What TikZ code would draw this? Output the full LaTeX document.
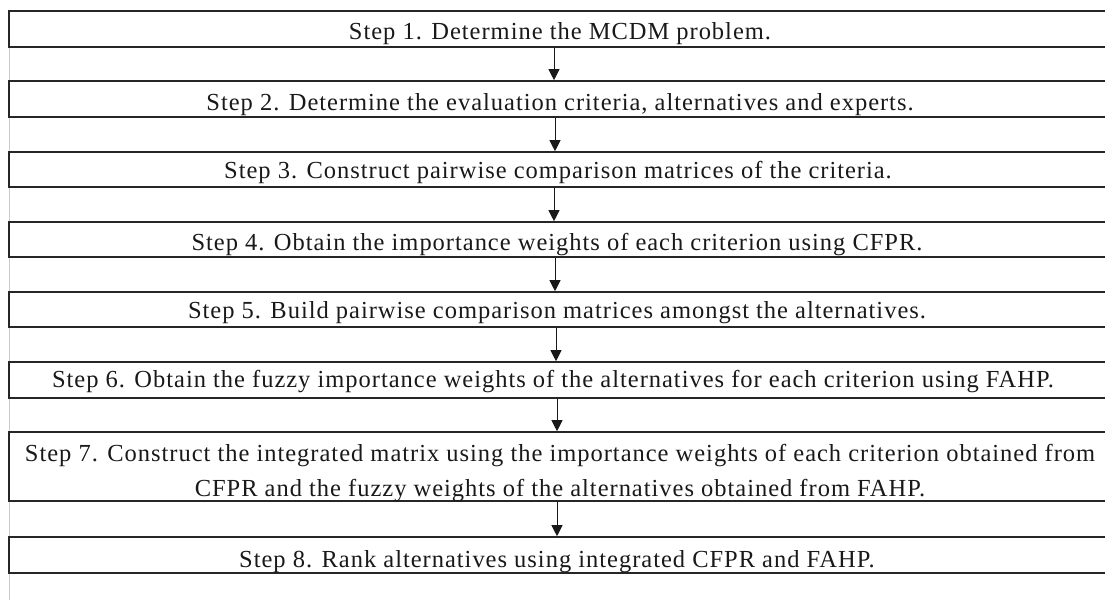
\documentclass[tikz,border=0pt]{standalone}
\usepackage{fontspec}
\setmainfont{Liberation Serif}[LetterSpace=4]
\usetikzlibrary{arrows.meta}
\begin{document}
\begin{tikzpicture}[x=1pt,y=-1pt,
  stepbox/.style={draw=black!85,line width=1.6pt,rectangle,inner sep=0pt,minimum width=1099pt},
  txt/.style={anchor=base,inner sep=0pt,text=black!90,font=\fontsize{24.5}{35}\selectfont},
  arr/.style={draw=black!90,line width=1pt,-{Triangle[length=11pt,width=11pt]}},
  page/.style={draw=black!20,line width=0.8pt}]
\useasboundingbox (0,0) rectangle (1105,600);
\coordinate (pt) at (9,11);
\coordinate (pb) at (9,600);
\draw[page] (pt) -- (pb);
\node[stepbox,minimum height=36pt] (b1) at (558.5,29) {};
\node[stepbox,minimum height=36pt] (b2) at (558.5,99) {};
\node[stepbox,minimum height=35pt] (b3) at (558.5,169.5) {};
\node[stepbox,minimum height=35pt] (b4) at (558.5,239.5) {};
\node[stepbox,minimum height=35pt] (b5) at (558.5,309.5) {};
\node[stepbox,minimum height=36pt] (b6) at (558.5,380) {};
\node[stepbox,minimum height=69pt] (b7) at (558.5,466.5) {};
\node[stepbox,minimum height=36pt] (b8) at (558.5,555) {};
\node[txt] (t1) at (560,39) {Step 1. Determine the MCDM problem.};
\node[txt] (t2) at (560,110) {Step 2. Determine the evaluation criteria, alternatives and experts.};
\node[txt] (t3) at (558,178) {Step 3. Construct pairwise comparison matrices of the criteria.};
\node[txt] (t4) at (557,250) {Step 4. Obtain the importance weights of each criterion using CFPR.};
\node[txt] (t5) at (557,318) {Step 5. Build pairwise comparison matrices amongst the alternatives.};
\node[txt] (t6) at (553,387) {Step 6. Obtain the fuzzy importance weights of the alternatives for each criterion using FAHP.};
\node[txt] (t7a) at (560,461) {Step 7. Construct the integrated matrix using the importance weights of each criterion obtained from};
\node[txt] (t7b) at (560,496) {CFPR and the fuzzy weights of the alternatives obtained from FAHP.};
\node[txt] (t8) at (557,567) {Step 8. Rank alternatives using integrated CFPR and FAHP.};
\draw[arr] ([xshift=-4.5pt]b1.south) -- ([xshift=-4.5pt]b2.north);
\draw[arr] ([xshift=-3.5pt]b2.south) -- ([xshift=-3.5pt]b3.north);
\draw[arr] ([xshift=-4.5pt]b3.south) -- ([xshift=-4.5pt]b4.north);
\draw[arr] ([xshift=-3.5pt]b4.south) -- ([xshift=-3.5pt]b5.north);
\draw[arr] ([xshift=-2.5pt]b5.south) -- ([xshift=-2.5pt]b6.north);
\draw[arr] ([xshift=-1.5pt]b6.south) -- ([xshift=-1.5pt]b7.north);
\draw[arr] ([xshift=-1.5pt]b7.south) -- ([xshift=-1.5pt]b8.north);
\end{tikzpicture}
\end{document}
